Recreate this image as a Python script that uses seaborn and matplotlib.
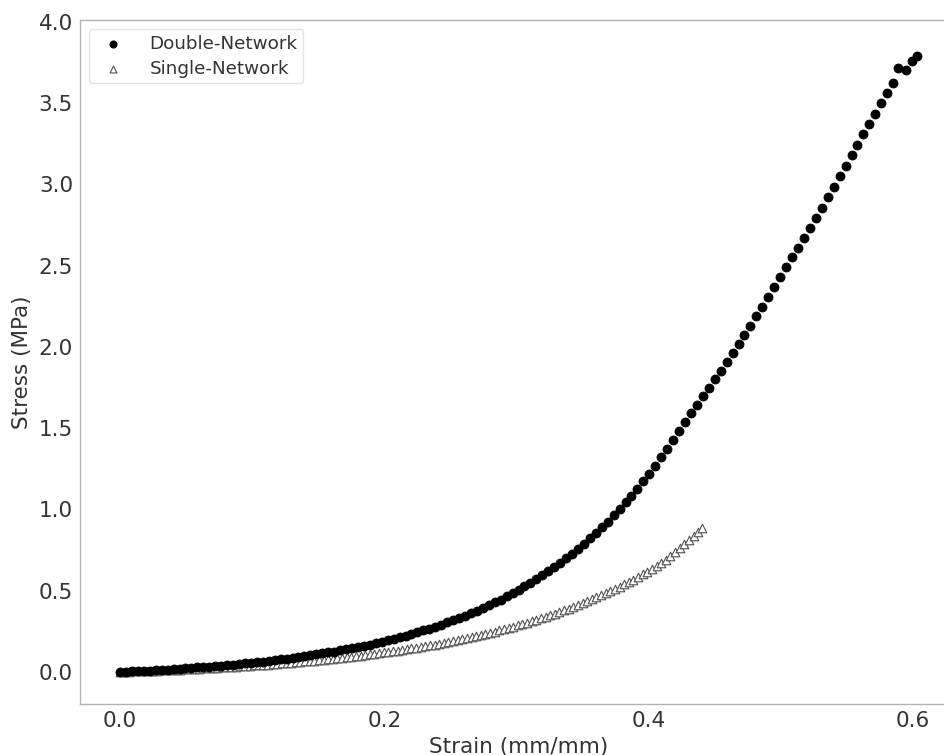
import pandas as pd
import matplotlib
matplotlib.use('Agg')
import matplotlib.pyplot as plt
import seaborn as sns

# Double-network gel
dn_strain = [0.0, 0.0045, 0.009, 0.0135, 0.018, 0.0225, 0.027, 0.0315, 0.036, 0.0405,
             0.045, 0.0495, 0.054, 0.0585, 0.063, 0.0675, 0.072, 0.0765, 0.081, 0.0855,
             0.09, 0.0945, 0.099, 0.1035, 0.108, 0.1125, 0.117, 0.1215, 0.126, 0.1305,
             0.135, 0.1395, 0.144, 0.1485, 0.153, 0.1575, 0.162, 0.1665, 0.171, 0.1755,
             0.18, 0.1845, 0.189, 0.1935, 0.198, 0.2025, 0.207, 0.2115, 0.216, 0.2205,
             0.225, 0.2295, 0.234, 0.2385, 0.243, 0.2475, 0.252, 0.2565, 0.261, 0.2655,
             0.27, 0.2745, 0.279, 0.2835, 0.288, 0.2925, 0.297, 0.3015, 0.306, 0.3105,
             0.315, 0.3195, 0.324, 0.3285, 0.333, 0.3375, 0.342, 0.3465, 0.351, 0.3555,
             0.36, 0.3645, 0.369, 0.3735, 0.378, 0.3825, 0.387, 0.3915, 0.396, 0.4005,
             0.405, 0.4095, 0.414, 0.4185, 0.423, 0.4275, 0.432, 0.4365, 0.441, 0.4455,
             0.45, 0.4545, 0.459, 0.4635, 0.468, 0.4725, 0.477, 0.4815, 0.486, 0.4905,
             0.495, 0.4995, 0.504, 0.5085, 0.513, 0.5175, 0.522, 0.5265, 0.531, 0.5355,
             0.54, 0.5445, 0.549, 0.5535, 0.558, 0.5625, 0.567, 0.5715, 0.576, 0.5805,
             0.585, 0.589, 0.595, 0.599, 0.603]
dn_stress = [0.000, 0.002, 0.003, 0.005, 0.007, 0.009, 0.011, 0.013, 0.015, 0.018,
             0.020, 0.022, 0.025, 0.028, 0.030, 0.033, 0.036, 0.039, 0.042, 0.046,
             0.049, 0.053, 0.056, 0.060, 0.064, 0.068, 0.073, 0.077, 0.082, 0.087,
             0.092, 0.097, 0.102, 0.108, 0.114, 0.120, 0.126, 0.133, 0.139, 0.146,
             0.154, 0.161, 0.169, 0.178, 0.186, 0.195, 0.204, 0.214, 0.224, 0.234,
             0.245, 0.256, 0.267, 0.279, 0.292, 0.305, 0.318, 0.332, 0.347, 0.362,
             0.377, 0.394, 0.411, 0.428, 0.446, 0.465, 0.485, 0.505, 0.527, 0.549,
             0.571, 0.595, 0.620, 0.646, 0.672, 0.700, 0.729, 0.758, 0.789, 0.822,
             0.855, 0.890, 0.926, 0.963, 1.002, 1.043, 1.085, 1.128, 1.173, 1.220,
             1.269, 1.320, 1.373, 1.427, 1.482, 1.537, 1.591, 1.644, 1.697, 1.750,
             1.802, 1.855, 1.908, 1.962, 2.017, 2.073, 2.130, 2.189, 2.248, 2.308,
             2.369, 2.430, 2.490, 2.551, 2.612, 2.673, 2.734, 2.795, 2.857, 2.920,
             2.984, 3.049, 3.114, 3.179, 3.244, 3.309, 3.373, 3.436, 3.499, 3.562,
             3.625, 3.716, 3.706, 3.760, 3.790]

# Single-network gel
sn_strain = [0.0, 0.0035, 0.007, 0.0105, 0.014, 0.0175, 0.021, 0.0245, 0.028, 0.0315,
             0.035, 0.0385, 0.042, 0.0455, 0.049, 0.0525, 0.056, 0.0595, 0.063, 0.0665,
             0.07, 0.0735, 0.077, 0.0805, 0.084, 0.0875, 0.091, 0.0945, 0.098, 0.1015,
             0.105, 0.1085, 0.112, 0.1155, 0.119, 0.1225, 0.126, 0.1295, 0.133, 0.1365,
             0.14, 0.1435, 0.147, 0.1505, 0.154, 0.1575, 0.161, 0.1645, 0.168, 0.1715,
             0.175, 0.1785, 0.182, 0.1855, 0.189, 0.1925, 0.196, 0.1995, 0.203, 0.2065,
             0.21, 0.2135, 0.217, 0.2205, 0.224, 0.2275, 0.231, 0.2345, 0.238, 0.2415,
             0.245, 0.2485, 0.252, 0.2555, 0.259, 0.2625, 0.266, 0.2695, 0.273, 0.2765,
             0.28, 0.2835, 0.287, 0.2905, 0.294, 0.2975, 0.301, 0.3045, 0.308, 0.3115,
             0.315, 0.3185, 0.322, 0.3255, 0.329, 0.3325, 0.336, 0.3395, 0.343, 0.3465,
             0.35, 0.3535, 0.357, 0.3605, 0.364, 0.3675, 0.371, 0.3745, 0.378, 0.3815,
             0.385, 0.3885, 0.392, 0.3955, 0.399, 0.4025, 0.406, 0.4095, 0.413, 0.4165,
             0.42, 0.4235, 0.427, 0.4305, 0.434, 0.4375, 0.44]
sn_stress = [0.000, 0.001, 0.002, 0.003, 0.004, 0.005, 0.006, 0.007, 0.008, 0.010,
             0.011, 0.012, 0.013, 0.015, 0.016, 0.017, 0.019, 0.020, 0.022, 0.023,
             0.025, 0.026, 0.028, 0.029, 0.031, 0.033, 0.035, 0.037, 0.038, 0.040,
             0.042, 0.044, 0.046, 0.049, 0.051, 0.053, 0.055, 0.058, 0.060, 0.063,
             0.065, 0.068, 0.070, 0.073, 0.076, 0.079, 0.082, 0.085, 0.088, 0.091,
             0.094, 0.098, 0.101, 0.105, 0.108, 0.112, 0.116, 0.120, 0.124, 0.128,
             0.132, 0.136, 0.141, 0.145, 0.150, 0.154, 0.159, 0.164, 0.169, 0.175,
             0.180, 0.186, 0.191, 0.197, 0.203, 0.209, 0.215, 0.222, 0.228, 0.235,
             0.242, 0.249, 0.256, 0.264, 0.271, 0.279, 0.287, 0.295, 0.304, 0.313,
             0.321, 0.331, 0.340, 0.349, 0.359, 0.369, 0.380, 0.390, 0.401, 0.412,
             0.423, 0.435, 0.447, 0.459, 0.472, 0.485, 0.498, 0.512, 0.525, 0.540,
             0.554, 0.569, 0.585, 0.601, 0.617, 0.635, 0.652, 0.671, 0.692, 0.715,
             0.739, 0.763, 0.788, 0.813, 0.838, 0.863, 0.885]

xticks = [0.0, 0.2, 0.4, 0.6]
yticks = [0.0, 0.5, 1.0, 1.5, 2.0, 2.5, 3.0, 3.5, 4.0]

sns.set_style('white')
plt.rcParams['font.family'] = ['DejaVu Sans']
plt.rc('axes', edgecolor='#b3b3b3', linewidth=1.0, labelcolor='#333333')
plt.rc('xtick', color='#b3b3b3', labelcolor='#333333', labelsize=15.5)
plt.rc('ytick', color='#b3b3b3', labelcolor='#333333', labelsize=15.5)

df_dn = pd.DataFrame({'Strain': dn_strain, 'Stress': dn_stress})
df_sn = pd.DataFrame({'Strain': sn_strain, 'Stress': sn_stress})

fig = plt.figure(figsize=(9.44, 7.55), dpi=100)
# axes run past the right edge, the source figure is cropped there
ax = fig.add_axes([80/944, 51/755, 877/944, 684/755])

# double network sits on top, hides the single network where they overlap
sns.scatterplot(data=df_dn, x='Strain', y='Stress', ax=ax, marker='o', s=42, zorder=3,
                color='black', edgecolor='black', linewidth=0.6, label='Double-Network')
sns.scatterplot(data=df_sn, x='Strain', y='Stress', ax=ax, marker='^', s=38, zorder=2,
                facecolor='white', edgecolor='#505050', linewidth=0.8, label='Single-Network')

ax.set_xlim(-0.0303, 0.6333)
ax.set_ylim(-0.197, 4.012)
ax.set_xticks(xticks)
ax.set_yticks(yticks)
ax.tick_params(length=2.5, width=1, pad=2.5)
for sp in ax.spines.values():
    sp.set_visible(True)
    sp.set_color('#b3b3b3')

ax.set_xlabel('Strain (mm/mm)', fontsize=15.5, labelpad=4)
ax.set_ylabel('Stress (MPa)', fontsize=15.5, labelpad=5)

leg = ax.legend(loc='upper left', fontsize=13.2, frameon=True, scatterpoints=1,
                borderaxespad=0.5, borderpad=0.3, labelspacing=0.4,
                handletextpad=1.0, markerscale=0.8)
leg.set_zorder(5)
leg.get_frame().set_edgecolor('#dddddd')
for t in leg.get_texts():
    t.set_color('#333333')

plt.savefig('out.png', dpi=100)
plt.close(fig)
